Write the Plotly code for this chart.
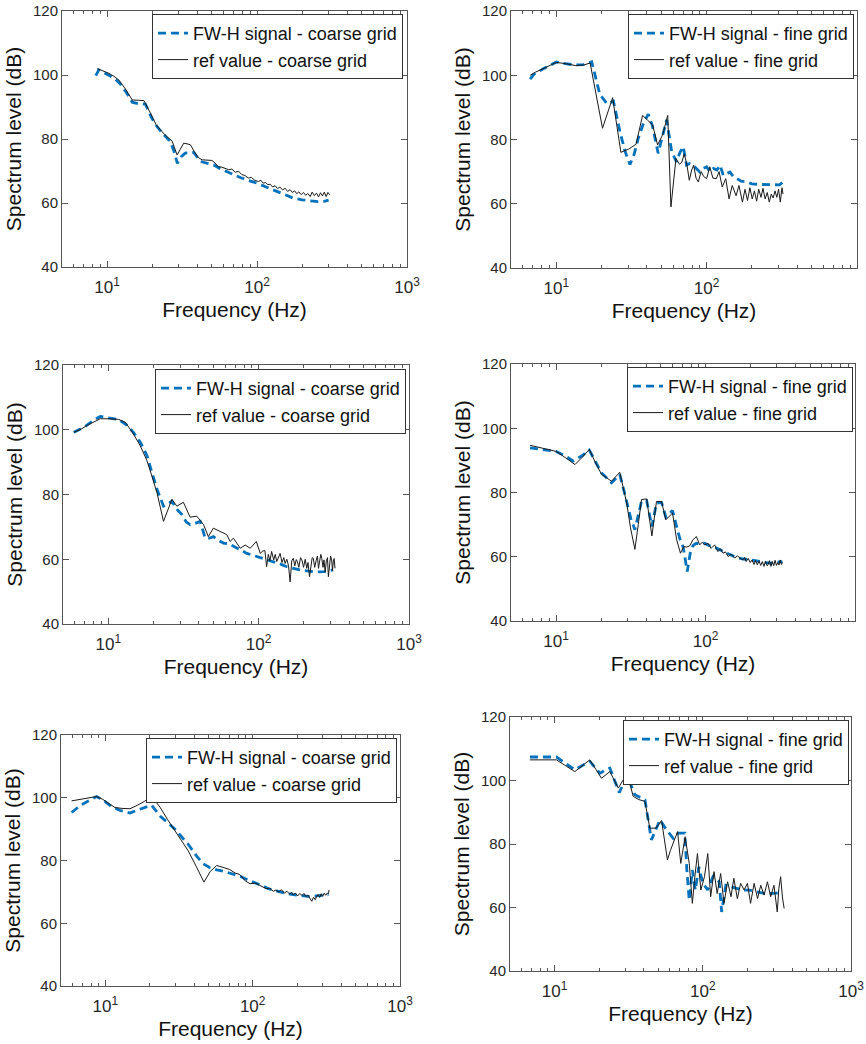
import math
import plotly.graph_objects as go

# ---------------- data ----------------
# Panel 1 (top-left, coarse grid)
f1_fwh = [8.4, 8.8, 9.6, 10.4, 11.4, 12.2, 13.4, 14.7, 16.3, 18.0, 19.8, 21.5, 23.8, 26.4, 28.0, 29.4,
          31.2, 33.2, 35.6, 37.8, 41.9, 46.0, 51.4, 58.0, 64.0, 70.0, 78.0, 88.0, 100, 115, 136, 155,
          175, 200, 226, 255, 280, 300]
L1_fwh = [99.8, 101.6, 100.6, 99.8, 98.6, 97.3, 94.6, 91.5, 91.0, 90.9, 86.6, 83.9, 81.4, 79.2, 76.0, 72.4,
          74.5, 75.6, 75.7, 75.8, 73.0, 72.4, 71.9, 70.5, 69.6, 68.8, 67.9, 67.0, 66.2, 65.0, 63.6, 62.5,
          61.5, 61.0, 60.6, 60.4, 60.5, 60.9]
f1_ref = [8.6, 9.4, 10.3, 11.1, 12.0, 13.3, 14.7, 16.2, 17.6, 19.5, 21.2, 22.7, 24.8, 27.1, 28.2, 29.3,
          30.6, 32.4, 34.1, 35.9, 38.2, 40.5, 43.0, 46.5, 50.0, 52.5, 55.0, 58.3, 61.5, 64.7, 68.0, 71.5,
          75.3, 79.0, 83.0, 87.5, 91.5, 96.0, 102, 106, 110, 114, 118, 122, 127, 132, 137, 142, 148, 154,
          160, 166, 172, 178, 184, 190, 197, 204, 211, 218, 226, 233, 241, 249, 257, 265, 273, 281, 289,
          297, 305]
L1_ref = [102.0, 101.3, 100.5, 99.6, 98.4, 95.5, 92.2, 92.1, 92.0, 88.0, 84.5, 82.8, 80.9, 79.4, 77.0, 75.0,
          76.6, 78.7, 78.5, 78.2, 76.0, 74.2, 73.5, 73.4, 73.3, 72.5, 71.4, 71.2, 70.8, 70.4, 70.6, 69.6,
          69.9, 68.9, 68.6, 67.8, 68.0, 67.2, 66.7, 67.1, 66.2, 66.4, 65.7, 65.9, 65.0, 65.4, 64.5, 65.0,
          64.1, 64.6, 63.6, 64.2, 63.3, 63.8, 62.9, 63.5, 62.6, 63.3, 62.4, 63.0, 62.0, 63.4, 62.3, 63.1,
          61.9, 63.2, 62.2, 63.4, 62.0, 63.3, 62.6]

# Panel 2 (top-right, fine grid)
f2_fwh = [6.7, 7.1, 8.2, 10.0, 11.5, 13.3, 15.2, 17.2, 19.5, 21.8, 24.0, 26.5, 28.6, 30.9, 33.0, 35.1,
          38.0, 40.9, 43.5, 47.6, 50.5, 54.2, 58.6, 63.0, 66.5, 69.9, 73.5, 77.0, 81.3, 85.5, 90.0, 95.0,
          100, 105, 111, 117, 123, 129, 136, 143, 150, 158, 170, 184, 200, 226, 250, 280, 305, 320]
L2_fwh = [98.8, 100.3, 102.0, 104.1, 103.6, 103.2, 103.3, 104.2, 94.0, 91.1, 91.9, 82.5, 76.5, 72.2, 75.5, 80.4,
          85.0, 87.9, 84.4, 75.7, 80.5, 86.1, 76.2, 73.0, 76.0, 77.8, 72.0, 72.5, 72.0, 71.0, 69.9, 71.0,
          71.5, 70.0, 71.0, 70.5, 72.0, 68.8, 69.5, 69.9, 68.5, 67.8, 67.0, 66.8, 66.2, 66.0, 65.9, 65.8,
          65.9, 66.6]
f2_ref = [6.7, 7.3, 8.4, 10.0, 11.6, 13.5, 15.2, 16.8, 20.3, 23.7, 26.9, 30.3, 33.9, 37.5, 40.5, 43.7,
          47.2, 51.0, 55.1, 57.9, 62.5, 66.0, 68.5, 71.0, 74.0, 76.7, 79.5, 82.0, 85.0, 88.0, 92.0, 95.5,
          100, 105, 110, 116, 121, 127, 134, 141, 148, 157, 164, 173, 180, 187, 194, 201, 208, 215, 222,
          230, 237, 245, 253, 261, 269, 277, 285, 293, 301, 309, 317, 322]
L2_ref = [100.0, 101.0, 102.3, 104.0, 103.6, 103.0, 103.2, 103.8, 83.5, 93.0, 76.0, 77.0, 78.5, 87.5, 86.0, 84.6,
          78.3, 81.5, 87.5, 59.0, 74.1, 72.3, 73.0, 75.5, 72.0, 67.3, 70.5, 72.0, 68.0, 66.8, 70.0, 68.5,
          67.8, 71.5, 68.0, 67.8, 70.0, 65.2, 67.8, 61.5, 65.7, 62.5, 65.7, 60.5, 64.5, 61.0, 65.0, 61.5,
          64.0, 60.8, 64.5, 62.0, 64.8, 61.5, 63.5, 60.5, 63.0, 61.8, 64.0, 62.0, 64.5, 60.5, 65.0, 63.0]

# Panel 3 (middle-left, coarse grid)
f3_fwh = [5.9, 7.0, 8.0, 8.85, 10.3, 11.7, 13.2, 14.7, 16.4, 18.1, 19.6, 21.1, 23.3, 24.9, 26.5, 28.5,
          30.9, 33.0, 35.0, 37.5, 40.9, 44.1, 47.0, 50.0, 54.0, 58.4, 63.0, 68.0, 75.0, 83.5, 92.0, 100,
          112, 125, 140, 154, 170, 188, 215, 243, 275, 300, 313]
L3_fwh = [99.2, 101.0, 103.0, 104.1, 103.6, 103.2, 101.5, 99.2, 96.0, 92.0, 86.5, 81.6, 76.4, 77.0, 78.0, 75.5,
          73.8, 71.5, 70.7, 71.0, 71.7, 66.5, 66.5, 67.0, 65.8, 65.0, 64.8, 64.1, 63.0, 61.8, 61.2, 60.8,
          60.0, 59.3, 58.5, 57.7, 57.2, 56.7, 56.3, 56.1, 56.2, 56.4, 56.7]
f3_ref = [5.9, 6.6, 7.2, 8.0, 8.85, 9.8, 10.7, 11.7, 13.0, 14.7, 16.3, 18.1, 19.5, 21.1, 23.3, 24.9,
          26.5, 28.6, 31.6, 35.0, 38.8, 43.0, 46.3, 50.0, 55.5, 61.4, 64.6, 68.0, 71.5, 75.5, 81.4, 88.0,
          96.5, 102.6, 106, 110, 113, 116, 119, 122, 126, 129, 132, 136, 139, 143, 147, 150, 154, 158,
          162, 166, 170, 174, 178, 181, 185, 190, 194, 199, 204, 209, 213, 218, 223, 227, 231, 236, 241,
          246, 250, 255, 259, 263, 268, 272, 277, 282, 287, 291, 296, 301, 306, 310, 314, 318, 322]
L3_ref = [99.2, 100.2, 101.3, 102.4, 103.4, 103.4, 103.3, 103.2, 102.3, 98.7, 95.1, 90.4, 85.7, 80.5, 71.7, 75.0,
          78.5, 76.4, 77.6, 73.0, 73.3, 70.7, 67.0, 69.6, 68.6, 67.6, 65.5, 66.5, 65.0, 63.4, 64.4, 63.4,
          65.5, 61.8, 62.5, 62.7, 57.7, 61.5, 59.5, 62.4, 59.8, 61.5, 59.3, 61.0, 61.8, 59.0, 60.5, 58.7,
          60.0, 58.0, 53.0, 59.5, 60.3, 58.0, 59.9, 59.3, 57.5, 60.5, 59.8, 57.5, 60.0, 57.2, 59.0, 54.6,
          58.0, 60.5, 60.3, 57.5, 59.5, 61.0, 57.2, 59.2, 61.5, 60.3, 57.5, 59.8, 56.1, 59.5, 60.5, 54.6,
          58.0, 61.0, 59.8, 56.5, 59.5, 60.2, 57.2]

# Panel 4 (middle-right, fine grid)
f4_fwh = [6.7, 8.0, 10.0, 11.6, 13.0, 15.0, 16.7, 18.4, 20.2, 23.5, 26.7, 29.7, 31.6, 33.7, 35.5, 37.3,
          40.4, 43.8, 47.0, 50.8, 54.3, 60.2, 64.1, 67.5, 70.9, 75.5, 79.0, 82.5, 86.9, 92.5, 98.7, 105,
          112, 120, 131, 145, 160, 180, 205, 235, 268, 300, 327]
L4_fwh = [93.9, 93.4, 92.8, 91.3, 89.8, 91.5, 93.2, 89.5, 86.1, 83.0, 85.6, 77.2, 72.0, 68.4, 72.5, 77.2,
          77.5, 69.4, 76.7, 76.9, 72.3, 74.4, 69.4, 65.5, 63.0, 55.4, 61.1, 63.5, 64.2, 64.0, 64.2, 63.5,
          63.2, 62.5, 61.6, 60.6, 59.8, 59.3, 59.0, 58.5, 58.0, 58.2, 58.5]
f4_ref = [6.7, 7.8, 10.0, 11.6, 13.4, 15.0, 16.7, 18.4, 20.2, 21.8, 23.5, 26.7, 29.7, 31.5, 33.7, 35.5,
          37.3, 40.4, 43.8, 47.0, 50.8, 54.3, 57.2, 60.2, 64.1, 68.0, 71.5, 74.8, 78.4, 82.5, 86.9, 91.5,
          95.0, 98.7, 104, 109, 115, 121, 126, 131, 136, 142, 148, 157, 163, 170, 177, 183, 187, 193, 199,
          205, 211, 216, 222, 228, 234, 240, 246, 252, 258, 262, 268, 274, 280, 286, 292, 298, 304, 310,
          316, 322, 327]
L4_ref = [94.7, 93.9, 92.8, 90.8, 88.7, 91.0, 93.4, 89.2, 85.6, 84.6, 83.5, 86.3, 76.7, 69.0, 62.3, 70.0,
          77.8, 78.0, 66.5, 77.2, 77.2, 71.5, 72.6, 73.6, 65.3, 61.1, 63.2, 63.0, 63.4, 65.3, 66.3, 63.7,
          64.5, 63.7, 64.2, 62.6, 63.7, 61.6, 62.5, 61.1, 61.5, 60.0, 60.8, 59.6, 60.3, 59.6, 59.0, 59.8,
          58.5, 59.5, 58.2, 59.0, 57.6, 58.8, 57.5, 58.7, 57.3, 58.5, 57.0, 58.6, 57.2, 57.5, 58.8, 57.0,
          58.5, 57.2, 58.9, 57.3, 58.2, 57.4, 59.0, 57.6, 58.2]

# Panel 5 (bottom-left, coarse grid)
f5_fwh = [5.9, 6.7, 7.6, 8.73, 9.8, 11.0, 12.5, 14.7, 17.0, 20.6, 23.5, 26.5, 29.7, 33.0, 36.6, 41.7,
          46.0, 51.3, 57.0, 63.3, 72.0, 82.0, 96.0, 112, 128, 146, 165, 188, 215, 244, 280, 327]
L5_fwh = [95.3, 97.4, 98.9, 100.4, 99.0, 97.2, 96.0, 95.1, 96.3, 97.6, 94.2, 92.0, 90.0, 87.5, 85.1, 81.4,
          79.0, 77.7, 77.0, 76.6, 75.8, 75.0, 73.5, 72.3, 71.0, 70.2, 69.6, 69.1, 68.7, 68.5, 68.8, 69.1]
f5_ref = [5.9, 6.7, 7.6, 8.73, 9.6, 10.5, 11.6, 13.0, 14.7, 16.5, 18.5, 20.6, 23.5, 26.5, 29.7, 33.0,
          36.6, 41.5, 46.7, 51.5, 56.9, 63.0, 70.0, 76.0, 82.0, 89.0, 96.0, 104, 112, 118, 124, 130, 138,
          144, 150, 157, 164, 171, 178, 184, 188, 195, 202, 209, 216, 223, 230, 237, 244, 252, 259, 266,
          273, 278, 285, 292, 299, 306, 313, 320, 327, 330]
L5_ref = [99.0, 99.4, 99.8, 100.4, 99.5, 98.2, 96.9, 96.6, 96.5, 97.6, 98.9, 100.4, 97.0, 93.0, 89.4, 86.0,
          83.0, 78.0, 73.1, 76.5, 78.4, 77.8, 77.1, 76.0, 75.5, 73.5, 72.6, 72.8, 72.0, 71.6, 71.0, 71.2,
          70.2, 70.6, 70.0, 70.7, 69.6, 70.2, 69.3, 69.9, 69.1, 69.6, 68.7, 69.5, 68.8, 69.5, 68.5, 69.0,
          68.0, 67.0, 68.3, 67.5, 68.8, 69.1, 68.2, 69.4, 68.6, 69.6, 68.9, 69.6, 69.4, 70.6]

# Panel 6 (bottom-right, fine grid)
f6_fwh = [6.82, 10.3, 12.0, 13.7, 15.5, 17.3, 20.2, 23.6, 27.3, 30.9, 34.8, 40.7, 45.0, 48.0, 51.4, 57.0,
          63.2, 68.2, 75.6, 78.0, 81.0, 85.0, 89.0, 94.0, 100, 108, 117, 129, 134, 143, 158, 184, 205,
          228, 255, 280, 310, 345]
L6_fwh = [107.4, 107.4, 105.2, 103.4, 104.8, 106.0, 102.3, 103.9, 96.2, 101.5, 95.5, 93.9, 81.3, 84.5, 87.6, 84.4,
          81.8, 83.4, 83.4, 72.0, 62.3, 71.8, 65.5, 72.8, 67.6, 65.5, 69.7, 68.1, 58.6, 67.0, 66.5, 65.5,
          65.5, 64.9, 64.5, 64.4, 64.5, 64.9]
f6_ref = [6.82, 8.5, 10.3, 12.0, 13.7, 15.5, 17.3, 19.0, 20.7, 23.6, 26.9, 30.9, 33.9, 37.0, 40.7, 43.9,
          48.3, 52.7, 55.0, 57.7, 60.5, 63.2, 67.6, 71.0, 76.0, 81.0, 85.0, 88.5, 92.0, 97.0, 102.6, 108,
          113, 119, 125, 132, 139, 147, 155, 162, 171, 180, 190, 200, 210, 222, 234, 246, 259, 273, 287,
          302, 318, 326, 335, 345, 354]
L6_ref = [106.5, 106.5, 106.5, 104.5, 102.8, 104.8, 106.5, 103.5, 100.7, 102.8, 97.6, 102.3, 95.0, 94.0, 93.4, 85.0,
          85.0, 87.4, 82.0, 75.0, 78.0, 80.2, 83.9, 73.9, 82.3, 73.9, 61.3, 70.0, 77.0, 65.5, 69.7, 77.0,
          63.4, 71.3, 64.4, 70.7, 61.3, 68.1, 63.4, 69.2, 62.8, 67.6, 65.5, 67.6, 61.3, 67.6, 62.8, 67.0,
          63.9, 68.1, 63.4, 67.0, 58.6, 66.0, 69.7, 63.0, 59.7]

grid_names = ["coarse grid", "fine grid", "coarse grid", "fine grid", "coarse grid", "fine grid"]
series = [
    (f1_fwh, L1_fwh, f1_ref, L1_ref),
    (f2_fwh, L2_fwh, f2_ref, L2_ref),
    (f3_fwh, L3_fwh, f3_ref, L3_ref),
    (f4_fwh, L4_fwh, f4_ref, L4_ref),
    (f5_fwh, L5_fwh, f5_ref, L5_ref),
    (f6_fwh, L6_fwh, f6_ref, L6_ref),
]

x_major = [10, 100, 1000]
x_major_text = ["10<sup>1</sup>", "10<sup>2</sup>", "10<sup>3</sup>"]
x_minor = [5, 6, 7, 8, 9, 20, 30, 40, 50, 60, 70, 80, 90, 200, 300, 400, 500, 600, 700, 800, 900]
y_ticks = [40, 60, 80, 100, 120]

# ---------------- layout geometry (pixels) ----------------
W, H = 866, 1044
boxes = [(62, 407, 11, 267), (511, 857, 11, 268), (63, 409, 365, 624),
         (511, 855, 364, 621), (61, 400, 735, 986), (510, 851, 717, 971)]
legend_anchor = [(403, 14), (854, 14), (406, 369), (853, 367), (397, 738), (849, 720)]
legend_entry_w = [235, 205, 235, 205, 232, 205]

FONT = "Liberation Sans, Arial, Helvetica, sans-serif"
BLUE = "#0072BD"
AXC = "#555555"

fig = go.Figure()
layout = dict(
    width=W, height=H, margin=dict(l=0, r=0, t=0, b=0, autoexpand=False),
    paper_bgcolor="white", plot_bgcolor="white",
    font=dict(family=FONT, color="#222222"),
)

for i, (ff, lf, fr, lr) in enumerate(series):
    n = i + 1
    sfx = "" if n == 1 else str(n)
    leg = "legend" if n == 1 else f"legend{n}"
    fig.add_trace(go.Scatter(
        x=ff, y=lf, mode="lines", name=f"FW-H signal - {grid_names[i]}",
        line=dict(color=BLUE, width=2.8, dash="8px,5px"),
        xaxis=f"x{sfx}", yaxis=f"y{sfx}", legend=leg, showlegend=True))
    fig.add_trace(go.Scatter(
        x=fr, y=lr, mode="lines", name=f"ref value - {grid_names[i]}",
        line=dict(color="#1a1a1a", width=1),
        xaxis=f"x{sfx}", yaxis=f"y{sfx}", legend=leg, showlegend=True))

    x0, x1, y0, y1 = boxes[i]
    layout[f"xaxis{sfx}"] = dict(
        type="log", range=[math.log10(5), 3], domain=[x0 / W, x1 / W], anchor=f"y{sfx}",
        tickmode="array", tickvals=x_major, ticktext=x_major_text,
        ticks="inside", ticklen=6, tickcolor=AXC, tickfont=dict(size=17, color="#262626"),
        ticklabelstandoff=5,
        minor=dict(tickmode="array", tickvals=x_minor, ticks="inside", ticklen=3,
                   tickcolor=AXC, showgrid=False),
        showline=True, linecolor=AXC, linewidth=1, mirror="ticks",
        showgrid=False, zeroline=False, automargin=False,
        title=dict(text="Frequency (Hz)", font=dict(size=21, color="#111111"), standoff=5),
    )
    layout[f"yaxis{sfx}"] = dict(
        range=[40, 120], domain=[1 - y1 / H, 1 - y0 / H], anchor=f"x{sfx}",
        tickmode="array", tickvals=y_ticks,
        ticks="inside", ticklen=6, tickcolor=AXC, tickfont=dict(size=15, color="#262626"),
        showline=True, linecolor=AXC, linewidth=1, mirror="ticks",
        showgrid=False, zeroline=False, automargin=False,
        title=dict(text="Spectrum level (dB)", font=dict(size=21, color="#111111"), standoff=5),
    )
    lx, ly = legend_anchor[i]
    layout[leg] = dict(
        x=lx / W, y=1 - ly / H, xanchor="right", yanchor="top",
        bgcolor="white", bordercolor="#333333", borderwidth=1,
        font=dict(size=18, family=FONT, color="#111111"),
        tracegroupgap=0, itemwidth=30,
        entrywidth=legend_entry_w[i], entrywidthmode="pixels",
    )

fig.update_layout(**layout)
fig.write_html("out.html")
